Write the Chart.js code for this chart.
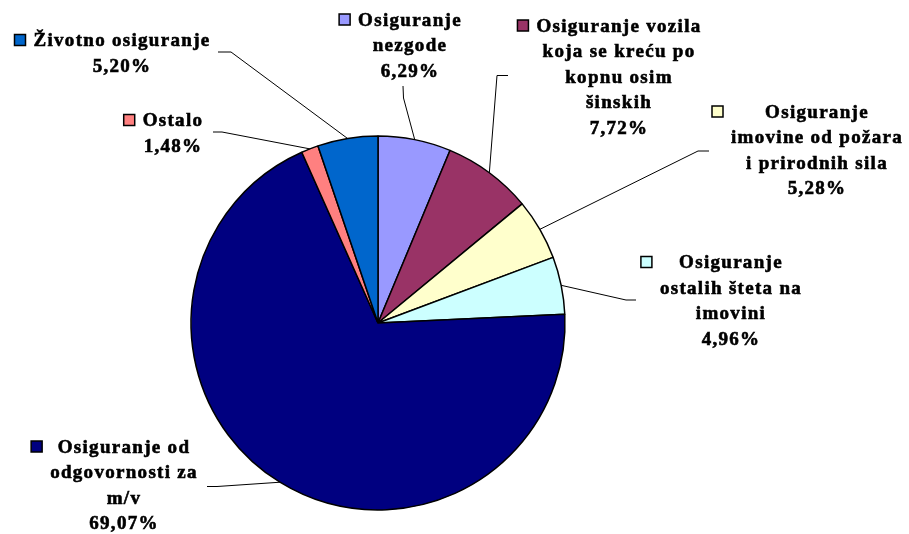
<!DOCTYPE html>
<html>
<head>
<meta charset="utf-8">
<script src="https://cdn.jsdelivr.net/npm/chart.js@4.4.1/dist/chart.umd.min.js"></script>
<style>
  html, body { margin: 0; padding: 0; background: #fff; }
  #pieChart { display: block; }
</style>
</head>
<body>
<canvas id="pieChart" width="909" height="534"></canvas>
<script>
// categories, clockwise from 12 o'clock
var categories = [
  "Osiguranje nezgode",
  "Osiguranje vozila koja se kreću po kopnu osim šinskih",
  "Osiguranje imovine od požara i prirodnih sila",
  "Osiguranje ostalih šteta na imovini",
  "Osiguranje od odgovornosti za m/v",
  "Ostalo",
  "Životno osiguranje"
];
var shares = [6.29, 7.72, 5.28, 4.96, 69.07, 1.48, 5.20];
var shareLabels = ["6,29%", "7,72%", "5,28%", "4,96%", "69,07%", "1,48%", "5,20%"];
// label text broken the same way as in the picture
var labelLines = [
  ["Osiguranje", "nezgode"],
  ["Osiguranje vozila", "koja se kreću po", "kopnu osim", "šinskih"],
  ["Osiguranje", "imovine od požara", "i prirodnih sila"],
  ["Osiguranje", "ostalih šteta na", "imovini"],
  ["Osiguranje od", "odgovornosti za", "m/v"],
  ["Ostalo"],
  ["Životno osiguranje"]
];
var sliceColors = ["#9999FF", "#993366", "#FFFFCC", "#CCFFFF", "#000080", "#FF8080", "#0066CC"];

// where each label block sits: center x, first baseline, and leader elbow points
var labelPlace = [
  { cx: 410, y: 25.5, lead: [[403, 86], [403.5, 98]] },
  { cx: 619, y: 31.5, lead: [[508, 75.5], [497, 75.5]] },
  { cx: 817, y: 117.5, lead: [[709, 151], [698, 151]] },
  { cx: 731, y: 268, lead: [[636, 300], [626, 300]] },
  { cx: 124, y: 452.5, lead: [[207, 486.5], [217, 486.5]] },
  { cx: 173, y: 126, lead: [[213, 132], [222, 132]] },
  { cx: 122, y: 46, lead: [[218, 52], [231, 52]] }
];

var lineGap = 25.5;

var sliceLabels = {
  id: 'sliceLabels',
  afterDatasetsDraw: function(chart) {
    var ctx = chart.ctx;
    var arcs = chart.getDatasetMeta(0).data;
    ctx.save();
    ctx.font = "bold 19px 'Liberation Serif', 'Times New Roman', serif";
    ctx.letterSpacing = "1.3px";
    ctx.textAlign = "center";
    ctx.textBaseline = "alphabetic";
    ctx.fillStyle = "#000";

    arcs.forEach(function(arc, i) {
      var p = labelPlace[i];
      var lines = labelLines[i].concat([shareLabels[i]]);

      // leader line to the middle of the slice edge
      var mid = (arc.startAngle + arc.endAngle) / 2;
      var ex = arc.x + Math.cos(mid) * arc.outerRadius;
      var ey = arc.y + Math.sin(mid) * arc.outerRadius;
      ctx.beginPath();
      ctx.strokeStyle = "#000";
      ctx.lineWidth = 1;
      ctx.moveTo(p.lead[0][0], p.lead[0][1]);
      for (var k = 1; k < p.lead.length; k++) ctx.lineTo(p.lead[k][0], p.lead[k][1]);
      ctx.lineTo(ex, ey);
      ctx.stroke();

      var maxW = 0;
      ctx.lineWidth = 0.6;
      lines.forEach(function(t, j) {
        var w = ctx.measureText(t).width;
        if (w > maxW) maxW = w;
        ctx.fillText(t, p.cx, p.y + j * lineGap);
        ctx.strokeText(t, p.cx, p.y + j * lineGap);
      });

      // legend key in front of the block
      var sx = p.cx - maxW / 2 - 19;
      var sy = p.y - 11.5;
      ctx.fillStyle = sliceColors[i];
      ctx.fillRect(sx, sy, 11, 11);
      ctx.lineWidth = 1.5;
      ctx.strokeRect(sx, sy, 11, 11);
      ctx.fillStyle = "#000";
    });
    ctx.restore();
  }
};

var pieCtx = document.getElementById('pieChart').getContext('2d');
var chart = new Chart(pieCtx, {
  type: 'pie',
  data: {
    labels: categories,
    datasets: [{
      data: shares,
      backgroundColor: sliceColors,
      borderColor: '#000',
      borderWidth: 1.5
    }]
  },
  options: {
    responsive: false,
    animation: false,
    radius: 187,
    layout: { padding: { left: 190, right: 343, top: 136, bottom: 24 } },
    plugins: {
      legend: { display: false },
      tooltip: { enabled: false }
    }
  },
  plugins: [sliceLabels]
});
</script>
</body>
</html>
